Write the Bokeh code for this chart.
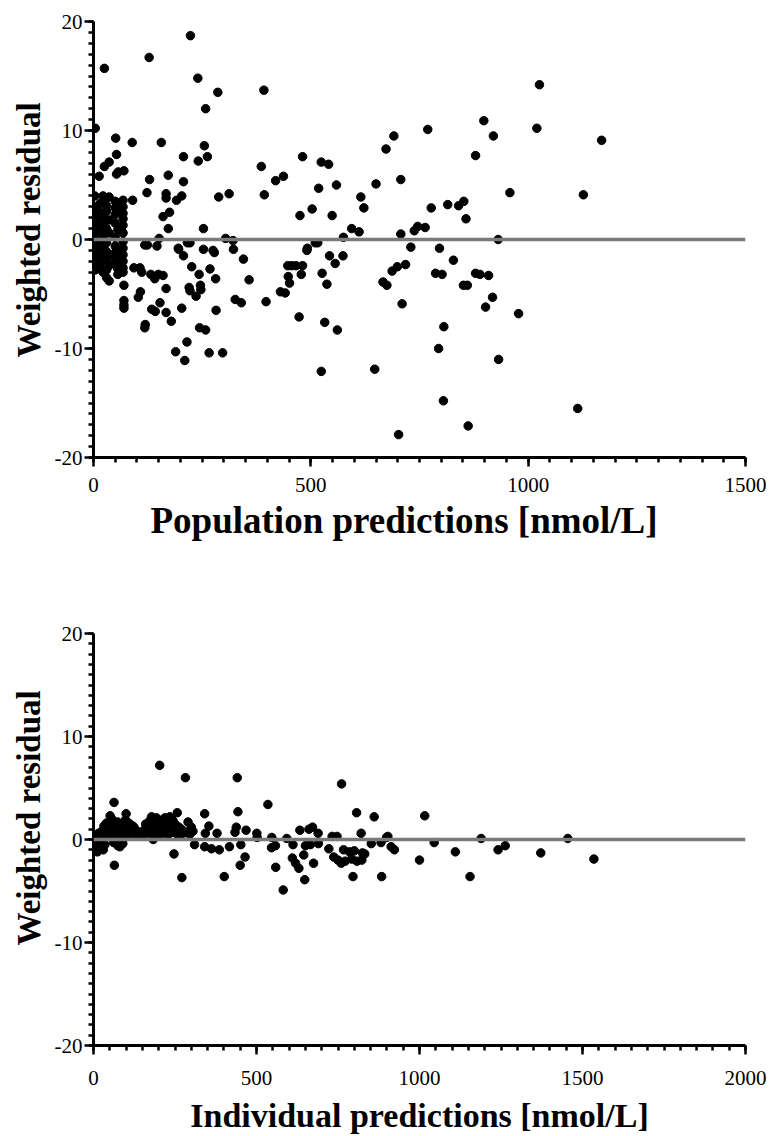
from bokeh.plotting import figure
from bokeh.layouts import column
from bokeh.models import Span, FixedTicker, Range1d, Title
from bokeh.embed import file_html
from bokeh.resources import INLINE

# ---------------- data: population predictions (top panel) ----------------
pop_x = [4, 25, 128, 223, 240, 286, 258, 392,
         13, 25, 36, 51, 53, 53, 57, 70, 89, 156,
         90, 123, 129, 172, 207, 207, 241, 255, 262,
         167, 167, 191, 203, 175, 160, 172, 253, 288, 312,
         386, 393, 419, 437, 481, 475, 503, 518, 524, 541, 559, 549,
         615, 622, 650, 673, 575, 594, 611, 510, 516, 492,
         151, 118, 124, 304, 321, 322, 216, 222, 253, 275,
         1026, 898, 769, 1020, 691, 920, 1169, 879, 707, 958, 1127,
         777, 815, 840, 852, 857, 707, 738, 746, 763, 730, 796, 931,
         828, 718, 699, 687, 666, 675, 787, 802, 879, 889, 909,
         851, 860, 918, 902, 710, 978, 806, 794, 932, 805, 1114, 862, 702,
         524, 647, 473, 532, 561, 397, 430, 441, 451, 448, 478, 526, 537,
         447, 456, 466, 481, 491, 543, 556, 574,
         345, 358, 326, 340, 282, 297, 266, 244, 258, 215, 189, 210,
         203, 179, 167, 153, 142, 134, 118, 119, 103, 108, 167, 220, 222, 236, 246, 247, 243, 226, 207, 196, 278, 268, 281,
         146, 149, 160, 141, 132, 107, 93, 111, 70, 70, 70, 70, 195,
         3, 3, 3, 3, 3, 3, 3, 3, 3, 3, 3, 3,
         8, 8, 8, 8, 8, 8, 8, 8,
         15, 15, 15, 15, 15, 15, 15,
         22, 22, 22, 22, 22, 22, 22,
         30, 30, 30, 30, 30, 30, 30, 30, 30,
         36, 36, 36, 36, 36, 36,
         50, 50, 50, 50, 50, 50, 50, 50, 50,
         56, 56, 56, 56, 56, 56, 56, 56,
         68, 68, 68, 68, 68, 68, 68, 68, 68, 68, 68, 68]
pop_y = [10.2, 15.7, 16.7, 18.7, 14.8, 13.5, 12.0, 13.7,
         5.8, 6.7, 7.1, 9.3, 7.8, 6.0, 6.2, 6.3, 8.9, 8.9,
         3.6, 4.3, 5.5, 5.9, 7.6, 5.3, 7.2, 8.6, 7.6,
         4.2, 3.8, 3.6, 4.0, 2.5, 2.1, 1.0, 1.0, 3.9, 4.2,
         6.7, 4.1, 5.4, 5.8, 7.6, 2.2, 2.8, 4.7, 7.1, 6.9, 5.0, 2.2,
         3.9, 2.9, 5.1, 8.3, 0.2, 1.0, 0.7, -0.3, -0.3, -0.8,
         0.1, -0.5, -0.5, 0.1, -0.1, -0.9, -0.3, -0.3, -0.9, -1.0,
         14.2, 10.9, 10.1, 10.2, 9.5, 9.5, 9.1, 7.7, 5.5, 4.3, 4.1,
         2.9, 3.2, 3.1, 3.5, 1.9, 0.5, 0.8, 1.2, 1.1, -0.7, -0.8, 0.0,
         -1.9, -2.3, -2.5, -2.9, -3.9, -4.2, -3.1, -3.2, -3.1, -3.2, -3.3,
         -4.2, -4.2, -5.3, -6.2, -5.9, -6.8, -8.0, -10.0, -11.0, -14.8, -15.5, -17.1, -17.9,
         -12.1, -11.9, -7.1, -7.6, -8.3, -5.7, -4.8, -4.9, -4.0, -3.4, -3.2, -3.1, -4.1,
         -2.4, -2.4, -2.4, -2.4, -1.0, -1.5, -2.2, -1.5,
         -1.8, -3.7, -5.5, -5.8, -6.5, -10.4, -10.4, -8.1, -8.3, -9.4, -10.3, -11.1,
         -6.3, -7.5, -6.7, -5.8, -6.6, -6.4, -8.1, -7.8, -5.3, -4.8, -4.5, -4.4, -4.7, -5.2, -4.2, -4.6, -3.2, -2.5, -1.5, -0.9, -1.2, -2.7, -3.6,
         -0.6, -3.2, -3.3, -3.6, -3.2, -2.6, -2.6, -3.0, -4.2, -5.6, -6.0, -6.3, -0.8,
         4.0, 2.8, 2.2, 1.6, 1.0, 0.5, -0.4, -1.0, -1.5, -2.0, -2.5, -2.8,
         3.0, 1.9, 1.2, -0.2, -0.7, -1.8, -2.3, -2.7,
         3.3, 2.5, 0.8, -0.5, -1.3, -2.2, -2.6,
         4.0, 2.0, 1.4, 0.3, -0.8, -1.6, -3.0,
         3.8, 3.1, 2.6, 1.0, -0.3, -1.1, -2.0, -2.8, -3.5,
         3.9, 1.8, 0.6, -1.4, -2.4, -3.8,
         3.5, 2.9, 2.3, 1.5, 0.2, -0.6, -1.2, -1.8, -2.2,
         3.3, 2.6, 0.9, -0.9, -1.6, -2.0, -2.7, -3.2,
         3.6, 3.0, 2.4, 1.9, 1.3, 0.6, -0.2, -0.8, -1.4, -2.0, -2.6, -3.0]

# ---------------- data: individual predictions (bottom panel) ----------------
ind_x = [203, 282, 441, 761, 63, 535, 443, 807, 861, 341, 257, 100, 51, 56, 354, 290, 178, 193, 219, 234, 239, 1016,
         160, 168, 208, 225, 249, 300, 305, 343, 379, 438, 468, 434, 501, 502, 547, 593, 633, 661, 672, 689, 732, 747, 821, 899, 903,
         852, 882, 310, 341, 362, 386, 417, 452, 546, 558, 612, 650, 665, 690, 722, 767, 785, 800, 825, 832,
         81, 247, 465, 450, 559, 610, 620, 630, 645, 675, 737, 750, 760, 772, 792, 808, 823,
         64, 271, 401, 582, 648, 796, 884, 913, 923, 1045, 1000, 1110, 1155, 1189, 1241, 1263, 1372, 1455, 1535,
         10, 15, 20, 25, 30, 35, 40, 45, 50, 55, 60, 65, 70, 75, 80, 85, 90, 95, 100, 105, 110, 115, 120, 125,
         130, 135, 140, 150, 155, 165, 175, 185, 190, 195, 200, 210, 215, 225, 230, 240, 245, 255, 260, 265, 270, 275, 285, 295,
         32, 40, 48, 58, 66, 74, 84, 92, 98, 108, 116, 124, 172, 186, 198, 212, 228, 244, 252, 262,
         3, 5, 8, 10, 12, 15, 18, 22, 26, 30, 35, 62, 75, 90, 183]
ind_y = [7.2, 6.0, 6.0, 5.4, 3.6, 3.4, 2.7, 2.6, 2.2, 2.5, 2.6, 2.5, 2.3, 2.0, 1.3, 1.7, 2.2, 2.1, 2.1, 2.2, 2.0, 2.3,
         1.5, 1.4, 1.6, 1.3, 1.5, 1.2, 0.8, 0.6, 0.6, 1.2, 0.9, 0.7, 0.6, 0.2, 0.2, 0.1, 0.9, 1.0, 1.2, 0.6, 0.3, 0.3, 0.6, 0.2, 0.3,
         -0.4, -0.3, -0.5, -0.7, -0.9, -1.0, -0.7, -0.5, -0.8, -0.6, -0.5, -0.6, -0.5, -0.4, -0.9, -1.0, -1.2, -1.1, -1.3, -1.4,
         -0.7, -1.4, -1.7, -2.5, -2.7, -1.8, -2.3, -2.8, -1.5, -2.3, -1.7, -2.0, -2.3, -2.1, -1.9, -2.1, -2.0,
         -2.5, -3.7, -3.6, -4.9, -3.9, -3.6, -3.6, -0.7, -1.0, -0.3, -2.0, -1.2, -3.6, 0.1, -1.0, -0.6, -1.3, 0.1, -1.9,
         0.3, 0.6, 0.4, 0.8, 0.5, 0.9, 0.6, 1.0, 0.4, 0.7, 1.1, 0.5, 0.8, 1.2, 0.6, 0.9, 0.4, 1.0, 0.7, 1.1, 0.5, 0.8, 1.3, 0.6,
         0.9, 0.4, 0.7, 0.5, 0.9, 0.6, 0.8, 1.0, 0.4, 0.7, 0.5, 0.9, 0.6, 0.8, 0.5, 0.7, 0.9, 0.6, 0.4, 0.8, 1.0, 0.6, 0.7, 0.5,
         1.3, 1.6, 1.2, 1.8, 1.4, 1.7, 1.5, 1.3, 1.9, 1.6, 1.4, 1.2, 1.8, 1.7, 1.5, 1.9, 1.6, 1.8, 1.4, 1.2,
         -0.5, -1.0, -0.3, -0.8, -1.2, -0.6, -0.9, -0.4, -0.7, -1.0, -0.5, -0.3, -0.6, -0.4, 0.0]

y_ticks = [-20, -10, 0, 10, 20]
top_x_ticks = [0, 500, 1000, 1500]
bot_x_ticks = [0, 500, 1000, 1500, 2000]
y_title = "Weighted residual"
top_x_title = "Population predictions [nmol/L]"
bot_x_title = "Individual predictions [nmol/L]"

SERIF = "Liberation Serif"


def make_panel(xs, ys, x_ticks, width, height, borders, xls_off, y_start):
    bl, bt, br, bb = borders
    p = figure(width=width, height=height, output_backend="svg", toolbar_location=None,
               x_range=Range1d(x_ticks[0], x_ticks[-1]), y_range=Range1d(y_ticks[0], y_ticks[-1]),
               min_border_left=bl, min_border_top=bt, min_border_right=br, min_border_bottom=bb)
    p.outline_line_color = None
    p.grid.visible = False
    p.background_fill_color = "white"
    p.border_fill_color = "white"

    p.scatter(xs, ys, size=8.5, color="black", line_color="black")

    zero = Span(location=0, dimension="width", line_color="#7a7a7a", line_width=3.5)
    p.add_layout(zero)

    xstep = x_ticks[1] - x_ticks[0]
    p.xaxis.ticker = FixedTicker(ticks=x_ticks,
                                 minor_ticks=[x_ticks[0] + i * xstep / 10 for i in range(10 * (len(x_ticks) - 1) + 1)])
    p.yaxis.ticker = FixedTicker(ticks=y_ticks, minor_ticks=list(range(-20, 21)))
    p.yaxis.major_label_overrides = {t: str(t) for t in y_ticks}
    p.xaxis.major_label_overrides = {t: str(t) for t in x_ticks}

    for ax in (p.xaxis[0], p.yaxis[0]):
        ax.axis_line_width = 3
        ax.axis_line_color = "black"
        ax.major_tick_line_width = 2.5
        ax.minor_tick_line_width = 2.5
        ax.major_tick_line_color = "black"
        ax.minor_tick_line_color = "black"
        ax.major_tick_in = 0
        ax.major_tick_out = 9
        ax.minor_tick_in = 0
        ax.minor_tick_out = 5
        ax.major_label_text_font = SERIF
        ax.major_label_text_font_size = "21px"
        ax.major_label_text_color = "black"
        ax.axis_label_text_font = SERIF
        ax.axis_label_text_font_style = "bold"
        ax.axis_label_text_color = "black"

    p.xaxis.major_label_standoff = xls_off
    p.yaxis.major_label_standoff = 2

    # rotated title on the left; "left" alignment starts at the frame bottom, offset moves it up
    ytitle = Title(text=y_title, align="left", offset=y_start, standoff=9,
                   text_font=SERIF, text_font_size="33px", text_font_style="bold", text_color="black")
    p.add_layout(ytitle, "left")
    return p


top = make_panel(pop_x, pop_y, top_x_ticks, 774, 600, (92, 21, 29, 143), 11, 100)
top_xt = Title(text=top_x_title, align="left", offset=57, standoff=6,
               text_font=SERIF, text_font_size="37px", text_font_style="bold", text_color="black")
top.add_layout(top_xt, "below")

bottom = make_panel(ind_x, ind_y, bot_x_ticks, 774, 536, (93, 33, 21, 90), 16, 100)
bottom.xaxis.axis_label = bot_x_title
bottom.xaxis.axis_label_text_font_size = "34px"
bottom.xaxis.axis_label_standoff = 9

layout = column(top, bottom, spacing=0)
open("out.html", "w").write(file_html(layout, INLINE))
